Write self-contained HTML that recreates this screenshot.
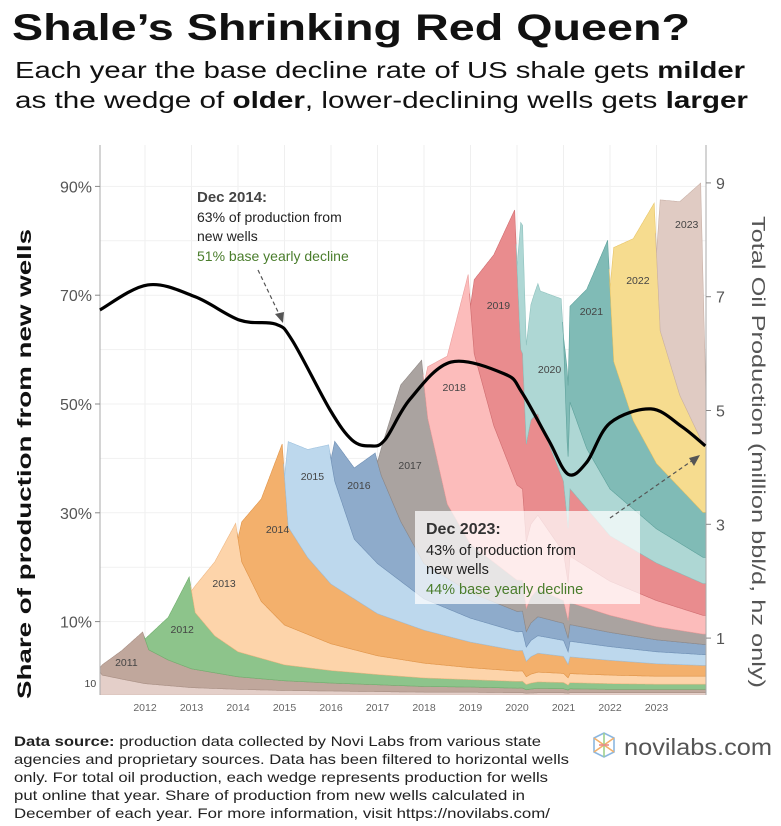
<!DOCTYPE html>
<html><head><meta charset="utf-8"><style>
html,body{margin:0;padding:0;background:#fff;}
svg{display:block;font-family:"Liberation Sans",sans-serif;}
</style></head><body>
<svg id="chart" width="781" height="826" viewBox="0 0 781 826" xmlns="http://www.w3.org/2000/svg">
<rect width="781" height="826" fill="#fff"/>
<text x="12" y="40" font-size="37" font-weight="bold" fill="#111" textLength="678" lengthAdjust="spacingAndGlyphs">Shale’s Shrinking Red Queen?</text>
<text x="15" y="78" font-size="23" fill="#111" textLength="730" lengthAdjust="spacingAndGlyphs">Each year the base decline rate of US shale gets <tspan font-weight="bold">milder</tspan></text>
<text x="15" y="108" font-size="23" fill="#111" textLength="733" lengthAdjust="spacingAndGlyphs">as the wedge of <tspan font-weight="bold">older</tspan>, lower-declining wells gets <tspan font-weight="bold">larger</tspan></text>
<g id="grid"></g>
<defs><clipPath id="plotclip"><rect x="100" y="140" width="606" height="555"/></clipPath></defs>
<g id="areas" clip-path="url(#plotclip)"></g>
<g id="vlabels"></g>
<g id="axes"></g>
<path id="shareline" fill="none" stroke="#000" stroke-width="3.2"/>
<g>
<text x="197" y="202" font-size="15" font-weight="bold" fill="#444">Dec 2014:</text>
<text x="197" y="222" font-size="14" fill="#222">63% of production from</text>
<text x="197" y="241" font-size="14" fill="#222">new wells</text>
<text x="197" y="261" font-size="14" fill="#4a7d2c">51% base yearly decline</text>
<line x1="258" y1="270" x2="280" y2="316" stroke="#555" stroke-width="1.2" stroke-dasharray="4,3"/>
<polygon points="283,323 275,314 284,312" fill="#555"/>
</g>
<g>
<rect x="415" y="511" width="225" height="93" fill="#fff" fill-opacity="0.72"/>
<line x1="610" y1="518" x2="693" y2="460" stroke="#555" stroke-width="1.2" stroke-dasharray="4,3"/>
<polygon points="700,455 689,458 694,466" fill="#555"/>
<text x="426" y="534" font-size="16" font-weight="bold" fill="#333">Dec 2023:</text>
<text x="426" y="555" font-size="14.5" fill="#222">43% of production from</text>
<text x="426" y="574" font-size="14.5" fill="#222">new wells</text>
<text x="426" y="594" font-size="14.5" fill="#4a7d2c">44% base yearly decline</text>
</g>
<text transform="translate(31,464) rotate(-90)" text-anchor="middle" font-size="19" font-weight="bold" fill="#111" textLength="470" lengthAdjust="spacingAndGlyphs">Share of production from new wells</text>
<text transform="translate(752,452) rotate(90)" text-anchor="middle" font-size="18" fill="#555" textLength="472" lengthAdjust="spacingAndGlyphs">Total Oil Production (million bbl/d, hz only)</text>
<g font-size="14" fill="#222">
<text x="14" y="746" textLength="527" lengthAdjust="spacingAndGlyphs"><tspan font-weight="bold">Data source:</tspan> production data collected by Novi Labs from various state</text>
<text x="14" y="764" textLength="555" lengthAdjust="spacingAndGlyphs">agencies and proprietary sources. Data has been filtered to horizontal wells</text>
<text x="14" y="782" textLength="534" lengthAdjust="spacingAndGlyphs">only. For total oil production, each wedge represents production for wells</text>
<text x="14" y="800" textLength="511" lengthAdjust="spacingAndGlyphs">put online that year. Share of production from new wells calculated in</text>
<text x="14" y="818" textLength="536" lengthAdjust="spacingAndGlyphs">December of each year. For more information, visit https://novilabs.com/</text>
</g>
<g>
<g stroke-width="1.6" fill="none">
<path d="M594,738 L604,733 L614,738 L614,752 L604,757 L594,752 Z" stroke="#8bb7e0"/>
<path d="M594,738 L614,752 M614,738 L594,752" stroke="#f2b06a"/>
<path d="M604,733 L604,757" stroke="#9fd08e"/>
<path d="M599,745 L609,745" stroke="#e88a8a"/>
</g>
<text x="624" y="755" font-size="23" fill="#555" textLength="148" lengthAdjust="spacingAndGlyphs">novilabs.com</text>
</g>
</svg>
<script>
// ---- data ----
const vintages = [2010,2011,2012,2013,2014,2015,2016,2017,2018,2019,2020,2021,2022,2023];
const relKnots = [0,0.08,0.5,0.95,1.08,1.5,2,3,4,5,6,7,8,9,10,11,12,13,14];
const prod2010 = [0,0.15,0.3,0.5,0.35,0.28,0.2,0.13,0.1,0.08,0.07,0.06,0.05,0.05,0.04,0.04,0.04,0.04];
const prod2011 = [0,0.18,0.5,0.9,0.6,0.45,0.33,0.22,0.17,0.14,0.12,0.1,0.09,0.08,0.07,0.06];
const prod2012 = [0,0.25,0.75,1.6,1.0,0.65,0.44,0.28,0.22,0.18,0.15,0.13,0.12,0.11,0.1,0.09];
const prod2013 = [0,0.47,1.3,2.23,1.6,1.0,0.7,0.47,0.33,0.26,0.21,0.18,0.16,0.15,0.14];
const prod2014 = [0,0.7,1.8,3.14,1.75,1.35,1.05,0.74,0.58,0.45,0.36,0.3,0.26,0.22,0.19];
const prod2015 = [0,1.5,1.9,2.4,1.85,1.05,0.88,0.55,0.42,0.33,0.28,0.24,0.21,0.19];
const prod2016 = [0,0.7,1.25,1.9,1.6,1.05,0.62,0.45,0.36,0.3,0.25,0.21,0.18];
const prod2017 = [0,0.47,2.4,3.5,2.6,1.3,0.85,0.55,0.4,0.3,0.23,0.18];
const prod2018 = [0,0.9,2.6,4.67,3.4,2.4,1.67,0.85,0.6,0.46,0.33];
const prod2019 = [0,1.3,3.0,4.73,2.4,1.7,1.25,0.8,0.66,0.56];
const prod2020 = [0,2.2,2.3,3.1,1.6,1.05,0.82,0.6,0.46];
const prod2021 = [0,1.5,2.8,4.3,2.3,1.55,1.15,0.79];
const prod2022 = [0,2.0,3.2,4.5,2.4,1.63,1.2];
const prod2023 = [0,2.3,3.4,4.5,0.3];
const dipTimes = [2020.0,2020.12,2020.2,2020.3,2020.45,2021.0,2021.06,2021.1,2021.14];
const dipFactor = [1,1.02,0.78,0.9,1,1,0.88,0.8,1];
const shareTimes = [2011.03,2012.06,2013.08,2014.04,2014.8,2015.16,2015.98,2016.45,2016.84,2017.16,2017.7,2018.58,2019.74,2020.1,2020.69,2021.1,2021.5,2022.0,2022.88,2023.55,2024.05];
const shareValues = [67.3,71.9,69.7,65.4,64.7,61.8,48.9,43.4,42.3,43.4,50.9,57.7,55.5,52.2,43.2,37.1,39.3,46.5,49.1,45.8,42.3];
const leftTicks = [10,30,50,70,90];
const rightTicks = [1,3,5,7,9];
const yearTicks = [2012,2013,2014,2015,2016,2017,2018,2019,2020,2021,2022,2023];
const vColors = ['#e4cfc9','#c0a79c','#8dc48b','#fdd4aa','#f3b06c','#bdd8ed','#8eabcb','#aaa3a0','#fcbcbb','#e98c8e','#aed7d4','#80bbb6','#f6dc8f','#e0cbc3'];
const vStroke = ['#c9b1aa','#a88f84','#6fae6c','#efb884','#e09448','#9ec1de','#6f8fb4','#8f8885','#eb9e9d','#d06d70','#8fc2be','#5fa29c','#e8c567','#c9b1a7'];
const vLabelPos = [[2010.95,687],[2011.6,666],[2012.8,633],[2013.7,587],[2014.85,533],[2015.6,480],[2016.6,489],[2017.7,469],[2018.65,391],[2019.6,309],[2020.7,373],[2021.6,315],[2022.6,284],[2023.65,228]];
const prods = [prod2010,prod2011,prod2012,prod2013,prod2014,prod2015,prod2016,prod2017,prod2018,prod2019,prod2020,prod2021,prod2022,prod2023];

// ---- scales ----
const X = t => 98.5 + (t - 2011) * 46.5;
const YR = v => 695 - v * 56.9;
const YL = p => 676 - p * 5.44;
const NS = 'http://www.w3.org/2000/svg';
function interp(xs, ys, x){
  if (x <= xs[0]) return ys[0];
  for (let i = 1; i < ys.length; i++){
    if (x <= xs[i]) return ys[i-1] + (ys[i]-ys[i-1]) * (x - xs[i-1])/(xs[i]-xs[i-1]);
  }
  return ys[ys.length-1];
}
function vintageVal(i, t){
  const v = vintages[i], arr = prods[i];
  const r = t - v;
  if (r <= 0) return 0;
  return interp(relKnots.slice(0, arr.length), arr, r);
}

// grid
const grid = document.getElementById('grid');
yearTicks.forEach(y => {
  const l = document.createElementNS(NS,'line');
  l.setAttribute('x1',X(y)); l.setAttribute('x2',X(y)); l.setAttribute('y1',145); l.setAttribute('y2',695);
  l.setAttribute('stroke','#efefef'); l.setAttribute('stroke-width','1');
  
  
  grid.appendChild(l);
});
[0,10,20,30,40,50,60,70,80,90].forEach(p => {
  const l = document.createElementNS(NS,'line');
  l.setAttribute('x1',100); l.setAttribute('x2',706); l.setAttribute('y1',YL(p)); l.setAttribute('y2',YL(p));
  l.setAttribute('stroke','#f1f1f1'); l.setAttribute('stroke-width','1');
  
  
  grid.appendChild(l);
});

// areas
const areas = document.getElementById('areas');
const ts = [];
for (let t = 2010.9; t <= 2024.1; t += 0.01) ts.push(+t.toFixed(3));
const cum = ts.map(() => 0);
vintages.forEach((v, i) => {
  const lower = cum.slice();
  ts.forEach((t, k) => { cum[k] += vintageVal(i, t) * interp(dipTimes, dipFactor, t); });
  const idx = ts.map((t,k)=>k).filter(k => ts[k] >= v - 0.02);
  let d = '';
  idx.forEach((k, j) => { d += (j ? 'L' : 'M') + X(ts[k]).toFixed(1) + ',' + YR(cum[k]).toFixed(1); });
  for (let j = idx.length - 1; j >= 0; j--) { const k = idx[j]; d += 'L' + X(ts[k]).toFixed(1) + ',' + YR(lower[k]).toFixed(1); }
  d += 'Z';
  const p = document.createElementNS(NS,'path');
  p.setAttribute('d', d);
  p.setAttribute('fill', vColors[i]);
  p.setAttribute('stroke', vStroke[i]);
  p.setAttribute('stroke-width', '0.6');
  
  
  areas.appendChild(p);
});

// vintage labels
const vl = document.getElementById('vlabels');
vintages.forEach((v, i) => {
  const tx = document.createElementNS(NS,'text');
  tx.setAttribute('x', X(vLabelPos[i][0]));
  tx.setAttribute('y', vLabelPos[i][1]);
  tx.setAttribute('font-size', '10.5');
  tx.setAttribute('fill', '#444');
  tx.setAttribute('text-anchor', i === 0 ? 'end' : 'middle');
  tx.textContent = i === 0 ? '10' : String(v);
  
  
  vl.appendChild(tx);
});

// axes
const ax = document.getElementById('axes');
function addLine(x1,y1,x2,y2,c,name){
  const l = document.createElementNS(NS,'line');
  l.setAttribute('x1',x1); l.setAttribute('y1',y1); l.setAttribute('x2',x2); l.setAttribute('y2',y2);
  l.setAttribute('stroke',c); l.setAttribute('stroke-width','1');
  
  
  ax.appendChild(l);
}
function addText(x,y,s,anchor,size,fill,name){
  const tx = document.createElementNS(NS,'text');
  tx.setAttribute('x',x); tx.setAttribute('y',y); tx.setAttribute('text-anchor',anchor);
  tx.setAttribute('font-size',size); tx.setAttribute('fill',fill);
  tx.textContent = s;
  
  
  ax.appendChild(tx);
}
addLine(100,145,100,695,'#aaa','left-axis-line');
addLine(706,145,706,695,'#aaa','right-axis-line');
leftTicks.forEach(p => {
  addLine(95,YL(p),100,YL(p),'#888','left-tick');
  addText(92,YL(p)+6,p+'%','end','16','#555','left-tick-label');
});
rightTicks.forEach(v => {
  addLine(706,YR(v),711,YR(v),'#888','right-tick');
  addText(716,YR(v)+6,String(v),'start','16','#555','right-tick-label');
});
yearTicks.forEach(y => addText(X(y),711,String(y),'middle','10.5','#666','year-tick-label'));

// share line (smooth Catmull-Rom)
const pts = shareTimes.map((t,i) => [X(t), YL(shareValues[i])]);
let d = 'M' + pts[0][0].toFixed(1) + ',' + pts[0][1].toFixed(1);
for (let i = 0; i < pts.length - 1; i++){
  const p0 = pts[Math.max(0,i-1)], p1 = pts[i], p2 = pts[i+1], p3 = pts[Math.min(pts.length-1,i+2)];
  const c1 = [p1[0] + (p2[0]-p0[0])/6, p1[1] + (p2[1]-p0[1])/6];
  const c2 = [p2[0] - (p3[0]-p1[0])/6, p2[1] - (p3[1]-p1[1])/6];
  d += 'C' + c1.map(n=>n.toFixed(1)).join(',') + ' ' + c2.map(n=>n.toFixed(1)).join(',') + ' ' + p2.map(n=>n.toFixed(1)).join(',');
}
document.getElementById('shareline').setAttribute('d', d);
</script>
</body></html>
